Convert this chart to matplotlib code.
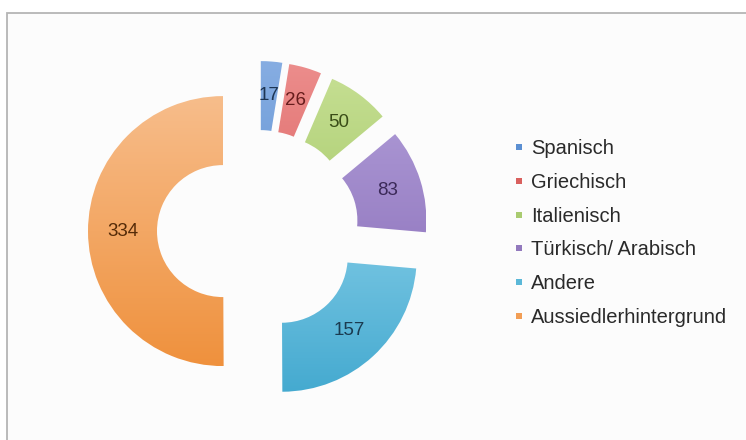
import numpy as np
import matplotlib
matplotlib.use("Agg")
import matplotlib.pyplot as plt
from matplotlib.patches import Rectangle

# data
categories = ["Spanisch", "Griechisch", "Italienisch", "Türkisch/ Arabisch",
              "Andere", "Aussiedlerhintergrund"]
counts = [17, 26, 50, 83, 157, 334]

# gradient colours per slice (top -> bottom) and label colours
top_colors = ["#86ade2", "#ec8d8c", "#c6df93", "#b09dd8", "#9edbf1", "#f7bd8b"]
bottom_colors = ["#4f86cc", "#d5514f", "#98c058", "#8669b5", "#45aad0", "#ef913d"]
legend_colors = ["#5b8fd2", "#d9605e", "#a9cb70", "#9279bd", "#5bb8d8", "#f29e55"]
label_colors = ["#1d3554", "#661c1c", "#3a4d18", "#3b2958", "#1b3b50", "#552b08"]

plt.rcParams["font.family"] = ["Liberation Sans", "DejaVu Sans"]

fig = plt.figure(figsize=(7.46, 4.4), dpi=100)
ax = fig.add_axes([0, 0, 1, 1])
ax.axis("off")

# chart frame (grey border on top/left, runs off the picture)
ax.add_patch(Rectangle((7, -10), 760, 437, facecolor="#fcfcfc",
                       edgecolor="#b5b5b5", linewidth=1.3, zorder=0))

R = 135
W = 69
wedges, _ = ax.pie(counts, startangle=90, counterclock=False,
                   center=(258, 209), radius=R, explode=[35] * len(counts),
                   wedgeprops=dict(width=W, linewidth=0), frame=True)

for i, w in enumerate(wedges):
    cx, cy = w.center
    # vertical gradient clipped to wedge
    c1 = np.array(matplotlib.colors.to_rgb(top_colors[i]))
    c2 = np.array(matplotlib.colors.to_rgb(bottom_colors[i]))
    t = np.linspace(0, 1, 128)[:, None]
    grad = (c1 * (1 - t) + c2 * t)[:, None, :]
    im = ax.imshow(grad, extent=(cx - R, cx + R, cy - R, cy + R),
                   origin="upper", aspect="auto", zorder=2)
    im.set_clip_path(w)
    w.set_facecolor("none")

    ang = np.deg2rad((w.theta1 + w.theta2) / 2)
    rm = R - W / 2
    ax.text(cx + rm * np.cos(ang), cy + rm * np.sin(ang), str(counts[i]),
            ha="center", va="center", fontsize=13.5, color=label_colors[i],
            zorder=3)

ax.set_xlim(0, 746)
ax.set_ylim(0, 440)
ax.set_aspect("equal")

# legend drawn by hand (pixel positions, y measured from top)
for i, (name, col) in enumerate(zip(categories, legend_colors)):
    base = 154 + 33.8 * i
    ax.add_patch(Rectangle((516, 440 - base + 4), 6, 6, facecolor=col,
                           edgecolor="none", zorder=3))
    ax.text(531, 440 - base, name, ha="left", va="baseline",
            fontsize=14.5, color="#2a2a2a", zorder=3)

fig.savefig("out.png", dpi=100, facecolor="white")
